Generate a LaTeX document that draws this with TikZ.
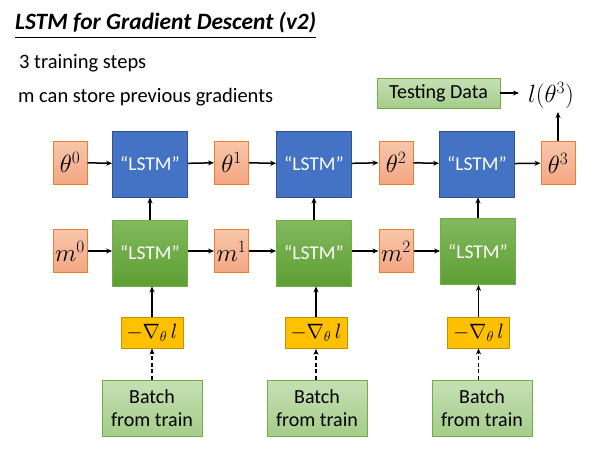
\documentclass[tikz,border=0pt]{standalone}
\usepackage{fontspec}
\setmainfont{Carlito}
\usetikzlibrary{arrows.meta}
\definecolor{orgB}{HTML}{ED7D31}
\definecolor{orgT}{HTML}{F8C6AA}
\definecolor{orgD}{HTML}{F4A683}
\definecolor{bluF}{HTML}{4472C4}
\definecolor{bluB}{HTML}{2F528F}
\definecolor{grnT}{HTML}{82B95E}
\definecolor{grnD}{HTML}{5E9E33}
\definecolor{grnB}{HTML}{70AD47}
\definecolor{ltT}{HTML}{C5E0B4}
\definecolor{ltD}{HTML}{A5CD8A}
\definecolor{yelF}{HTML}{FFC000}
\definecolor{yelB}{HTML}{BF9000}
\tikzset{
  parbox/.style={draw=orgB, line width=1pt, top color=orgT, bottom color=orgD, minimum width=34pt, minimum height=43pt, inner sep=0pt, font=\fontsize{26}{26}\selectfont},
  bluebox/.style={draw=bluB, line width=0.8pt, fill=bluF, minimum width=75pt, minimum height=66pt, inner sep=0pt, text=white, font=\fontsize{19.5}{19.5}\selectfont},
  greenbox/.style={draw=grnB, line width=0.8pt, top color=grnT, bottom color=grnD, minimum width=75pt, minimum height=66pt, inner sep=0pt, text=white, font=\fontsize{19.5}{19.5}\selectfont},
  gradbox/.style={draw=yelB, line width=0.8pt, fill=yelF, minimum width=62pt, minimum height=31pt, inner sep=0pt, font=\fontsize{21}{21}\selectfont},
  databox/.style={draw=grnB, line width=0.8pt, top color=ltT, bottom color=ltD, inner sep=0pt, align=center, font=\fontsize{20}{23.5}\selectfont},
  arr/.style={-{Stealth[length=6pt,width=5pt]}, line width=1.5pt},
  darr/.style={arr, dashed, dash pattern=on 4pt off 2.5pt},
}
\begin{document}
\begin{tikzpicture}[x=1pt,y=-1pt]
\useasboundingbox (0,0) rectangle (600,450);
% title
\node[anchor=west, inner sep=0pt, font=\fontsize{23.4}{23.4}\selectfont\bfseries\itshape] (title) at (15,23) {LSTM for Gradient Descent (v2)};
\draw[line width=1.2pt] (15,37.5) -- (316,37.5);
\node[anchor=west, inner sep=0pt, font=\fontsize{20.5}{20.5}\selectfont] (t1) at (19,63) {3 training steps};
\node[anchor=west, inner sep=0pt, font=\fontsize{20.5}{20.5}\selectfont] (t2) at (18,97) {m can store previous gradients};
% theta row
\node[parbox] (th0) at (70,162.5) {$\theta^0$};
\node[parbox] (th1) at (231.5,162.5) {$\theta^1$};
\node[parbox] (th2) at (396,162.5) {$\theta^2$};
\node[parbox] (th3) at (558,163) {$\theta^3$};
\node[bluebox] (b1) at (150,164) {“LSTM”};
\node[bluebox] (b2) at (314,164) {“LSTM”};
\node[bluebox] (b3) at (477,164) {“LSTM”};
% m row
\node[parbox] (m0) at (70,251) {$m^0$};
\node[parbox] (m1) at (231.5,251) {$m^1$};
\node[parbox] (m2) at (396,251) {$m^2$};
\node[greenbox] (g1) at (150,253) {“LSTM”};
\node[greenbox] (g2) at (314,253) {“LSTM”};
\node[greenbox] (g3) at (478,251.5) {“LSTM”};
% gradients
\node[gradbox] (d1) at (152,332.5) {$-\nabla_\theta\, l$};
\node[gradbox] (d2) at (316,333) {$-\nabla_\theta\, l$};
\node[gradbox] (d3) at (478.5,332.5) {$-\nabla_\theta\, l$};
% batches
\node[databox, minimum width=100pt, minimum height=56pt] (bt1) at (152,408) {Batch\\from train};
\node[databox, minimum width=100pt, minimum height=56pt] (bt2) at (317,408) {Batch\\from train};
\node[databox, minimum width=100pt, minimum height=56pt] (bt3) at (482,408) {Batch\\from train};
% testing
\node[databox, minimum width=123pt, minimum height=30pt] (test) at (438.5,93) {Testing Data};
\node[inner sep=0pt, font=\fontsize{27}{27}\selectfont] (loss) at (551,96) {$l(\theta^3)$};
% arrows
\draw[arr] (th0) -- (b1);
\draw[arr] (b1) -- (th1);
\draw[arr] (th1) -- (b2);
\draw[arr] (b2) -- (th2);
\draw[arr] (th2) -- (b3);
\draw[arr] (b3) -- (th3);
\draw[arr] (m0) -- (g1.west |- m0);
\draw[arr] (g1.east |- m1) -- (m1);
\draw[arr] (m1) -- (g2.west |- m1);
\draw[arr] (g2.east |- m2) -- (m2);
\draw[arr] (m2) -- (g3.west |- m2);
\draw[arr] (g1) -- (b1);
\draw[arr] (g2) -- (b2);
\draw[arr] (g3.north) -- (g3.north |- b3.south);
\draw[arr] (d1.north) -- (d1.north |- g1.south);
\draw[arr] (d2.north) -- (d2.north |- g2.south);
\draw[arr] (d3) -- (d3 |- g3.south);
\draw[darr] (bt1.north -| d1) -- (d1.south);
\draw[darr] (bt2.north -| d2) -- (d2.south);
\draw[darr] (bt3.north -| d3) -- (d3.south);
\draw[arr] (th3.north) -- (th3.north |- 0,112);
\draw[arr] (test.east) -- (519,93);
\end{tikzpicture}
\end{document}
